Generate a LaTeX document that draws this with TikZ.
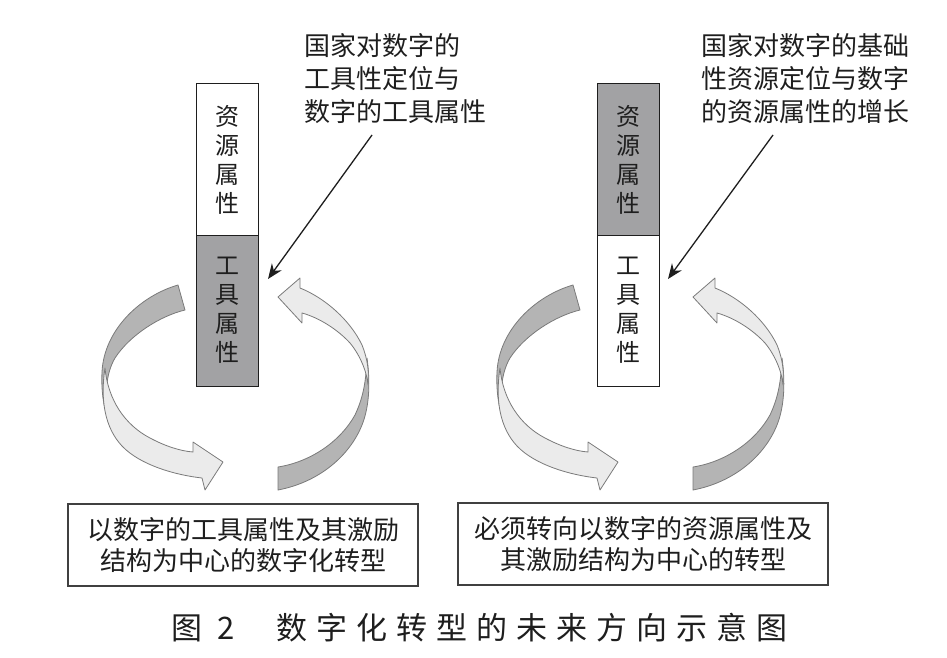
\documentclass[tikz,border=0pt]{standalone}
\usepackage{fontspec}
\setmainfont{Noto Sans CJK SC}
\usetikzlibrary{arrows.meta, positioning}
\definecolor{rbDark}{HTML}{B4B4B4}
\definecolor{rbLight}{HTML}{EBEBEB}
\definecolor{rbEdge}{HTML}{7A7A7A}
\definecolor{cellGrey}{HTML}{A2A2A4}
\definecolor{txtInk}{HTML}{1E1E1E}
\tikzset{
  cell/.style={
    draw=txtInk, line width=1pt, fill=white, inner sep=0pt,
    minimum width=62pt, minimum height=151pt, align=center,
    text=txtInk, font=\fontsize{24}{29}\selectfont
  },
  cellgrey/.style={cell, fill=cellGrey},
  note/.style={inner sep=0pt, align=left, text=txtInk, font=\fontsize{26}{33}\selectfont},
  goal/.style={
    draw=txtInk!85, line width=1.2pt, inner sep=0pt,
    minimum height=82pt, align=center,
    text=txtInk, font=\fontsize{26}{31}\selectfont
  },
  pointer/.style={-{Stealth[length=15pt, width=12pt]}, line width=1.3pt, draw=txtInk},
  ribdark/.style={draw=rbEdge, line width=0.8pt, fill=rbDark, line join=round},
  riblight/.style={draw=rbEdge, line width=0.8pt, fill=rbLight, line join=round},
}
% one circular ribbon pair: #1 shift of left arc, #2 shift of right arc
\newcommand{\ribbonloop}[2]{
  \begin{scope}[xshift=#1]
    \draw[ribdark] (178,285) .. controls (140,296) and (104,330) .. (102,372)
      .. controls (101,392) and (104,410) .. (110,425)
      .. controls (104,400) and (105,375) .. (115,358)
      .. controls (130,335) and (160,316) .. (185,310) -- cycle;
    \draw[riblight] (105,368) .. controls (108,400) and (125,425) .. (150,438)
      .. controls (165,446) and (180,451) .. (193,452) -- (193,442) -- (223,462)
      -- (205,490) -- (202,478) .. controls (175,475) and (140,465) .. (122,446)
      .. controls (105,428) and (100,400) .. (105,368) -- cycle;
  \end{scope}
  \begin{scope}[xshift=#2]
    \draw[ribdark] (367,358) .. controls (370,380) and (370,405) .. (362,425)
      .. controls (350,455) and (320,482) .. (278,490) -- (278,467)
      .. controls (310,462) and (340,442) .. (355,415)
      .. controls (362,400) and (366,385) .. (367,358) -- cycle;
    \draw[riblight] (278,297) -- (300,278) -- (300,288)
      .. controls (325,298) and (350,320) .. (362,345)
      .. controls (368,360) and (369,372) .. (368,385)
      .. controls (367,372) and (360,355) .. (350,343)
      .. controls (338,330) and (320,318) .. (302,313) -- (302,323) -- cycle;
  \end{scope}
}

\begin{document}
\begin{tikzpicture}[x=1pt, y=-1pt]
  \useasboundingbox (0,0) rectangle (947,658);

  % ribbons
  \ribbonloop{0}{0}
  \ribbonloop{395}{415}

  % columns
  \node[cell]     (resL)  at (227.5,159.5) {资\\源\\属\\性};
  \node[cellgrey] (toolL) at (227.5,310.5) {工\\具\\属\\性};
  \node[cellgrey] (resR)  at (628,159.5)   {资\\源\\属\\性};
  \node[cell]     (toolR) at (628,310.5)   {工\\具\\属\\性};

  % state notes
  \node[note, anchor=north west] (noteL) at (304,33) {国家对数字的\\工具性定位与\\数字的工具属性};
  \node[note, anchor=north west] (noteR) at (701,33) {国家对数字的基础\\性资源定位与数字\\的资源属性的增长};

  \coordinate (fromL) at (372,135);
  \coordinate (toL)   at (268,279);
  \coordinate (fromR) at (773,135);
  \coordinate (toR)   at (668,279);
  \draw[pointer] (fromL) -- (toL);
  \draw[pointer] (fromR) -- (toR);

  % transformation boxes
  \node[goal, minimum width=350pt] (goalL) at (243,545) {以数字的工具属性及其激励\\结构为中心的数字化转型};
  \node[goal, minimum width=370pt] (goalR) at (643,544) {必须转向以数字的资源属性及\\其激励结构为中心的转型};

  \node[anchor=west, inner sep=0pt, text=txtInk,
        font=\fontsize{31}{31}\selectfont\addfontfeature{LetterSpace=29}]
    (caption) at (171,628) {图\hspace{0.5em}2\hspace{1.35em}数字化转型的未来方向示意图};
\end{tikzpicture}
\end{document}
